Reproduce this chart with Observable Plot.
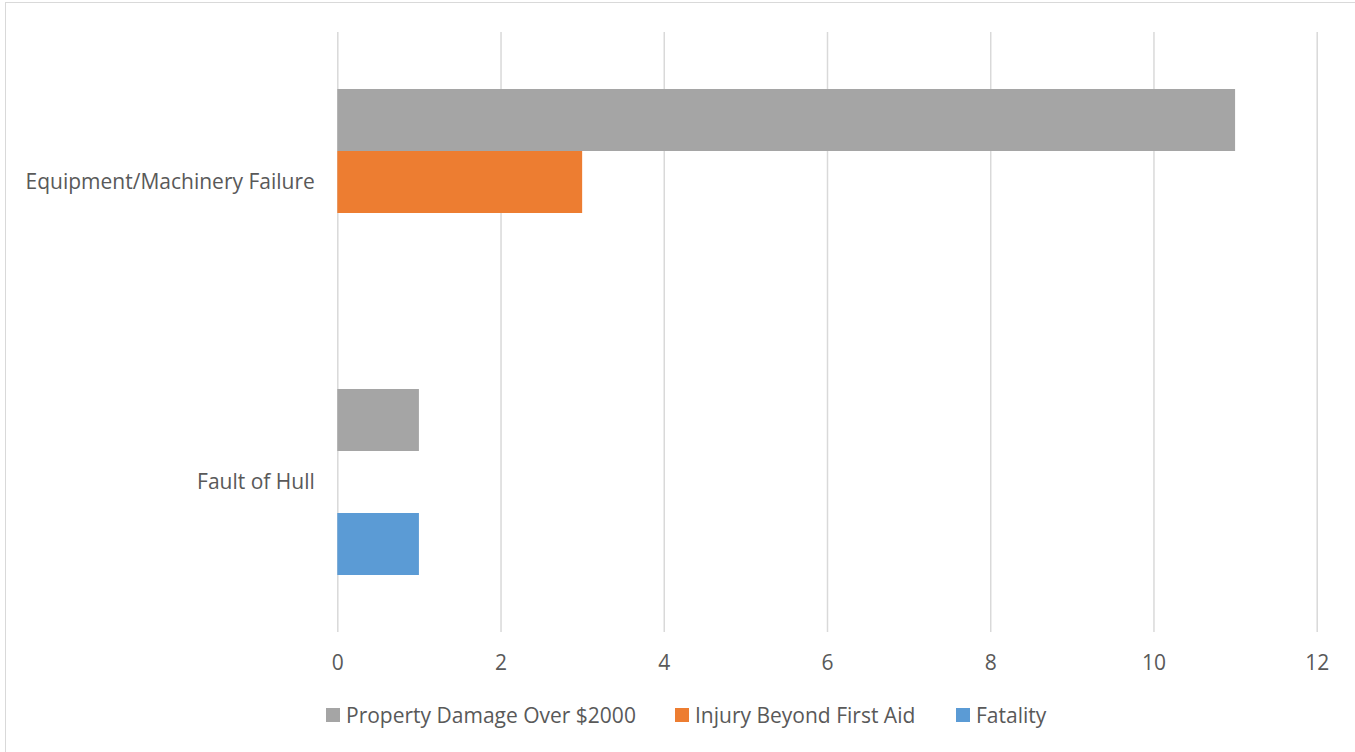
<!DOCTYPE html>
<html>
<head>
<meta charset="utf-8">
<script src="https://cdn.jsdelivr.net/npm/d3@7"></script>
<script src="https://cdn.jsdelivr.net/npm/@observablehq/plot@0.6"></script>
<style>
  html, body { margin: 0; padding: 0; background: #fff; }
  #wrap { position: relative; width: 1355px; height: 752px; overflow: hidden; background: #fff; font-family: "Open Sans", Lato, sans-serif; }
  #frame { position: absolute; left: 5px; top: 2px; width: 3000px; height: 3000px; border-left: 1.5px solid #d9d9d9; border-top: 1.5px solid #d9d9d9; pointer-events: none; }
  #plot { position: absolute; left: 0; top: 0; }
  #legend { position: absolute; left: 0; top: 700px; width: 1355px; height: 30px; }
  .item { position: absolute; top: 0; height: 30px; display: flex; align-items: center; font-size: 21px; color: #595959; white-space: nowrap; }
  .sw { width: 14px; height: 14px; margin-right: 6px; display: inline-block; }
</style>
</head>
<body>
<div id="wrap">
  <div id="frame"></div>
  <div id="plot"></div>
  <div id="legend"></div>
</div>
<script>
const categories = ["Equipment/Machinery Failure", "Fault of Hull"];
const series = ["Property Damage Over $2000", "Injury Beyond First Aid", "Fatality"];
const propertyDamage = [11, 1];
const injuryBeyondFirstAid = [3, 0];
const fatality = [0, 1];
const colors = ["#A5A5A5", "#ED7D31", "#5B9BD5"];
const xTicks = [0, 2, 4, 6, 8, 10, 12];

const valuesBySeries = [propertyDamage, injuryBeyondFirstAid, fatality];
const data = [];
categories.forEach((c, i) => {
  series.forEach((s, j) => {
    data.push({category: c, series: s, value: valuesBySeries[j][i]});
  });
});

const chart = Plot.plot({
  width: 1355,
  height: 690,
  marginLeft: 337.3,
  marginRight: 38.3,
  marginTop: 32,
  marginBottom: 58,
  x: {domain: [0, 12], axis: null},
  y: {domain: series, axis: null, paddingInner: 0, paddingOuter: 0.919},
  fy: {domain: categories, padding: 0, axis: null},
  color: {domain: series, range: colors},
  style: {fontFamily: "'Open Sans', Lato, sans-serif", fontSize: "21px", color: "#595959", background: "transparent", overflow: "visible"},
  marks: [
    Plot.gridX(xTicks, {stroke: "#d9d9d9", strokeOpacity: 1, strokeWidth: 1.5}),
    Plot.barX(data, {x: "value", y: "series", fy: "category", fill: "series"}),
    Plot.axisFy({anchor: "left", tickSize: 0, tickPadding: 23, label: null, fontSize: 21}),
    Plot.axisX({ticks: xTicks, tickSize: 0, tickPadding: 23, label: null, fontSize: 21})
  ]
});
document.getElementById("plot").appendChild(chart);

const legendX = [326, 675, 956];
const legend = document.getElementById("legend");
series.forEach((s, i) => {
  const item = document.createElement("div");
  item.className = "item";
  item.style.left = legendX[i] + "px";
  const sw = document.createElement("span");
  sw.className = "sw";
  sw.style.background = colors[i];
  const t = document.createElement("span");
  t.textContent = s;
  item.appendChild(sw);
  item.appendChild(t);
  legend.appendChild(item);
});
</script>
</body>
</html>
